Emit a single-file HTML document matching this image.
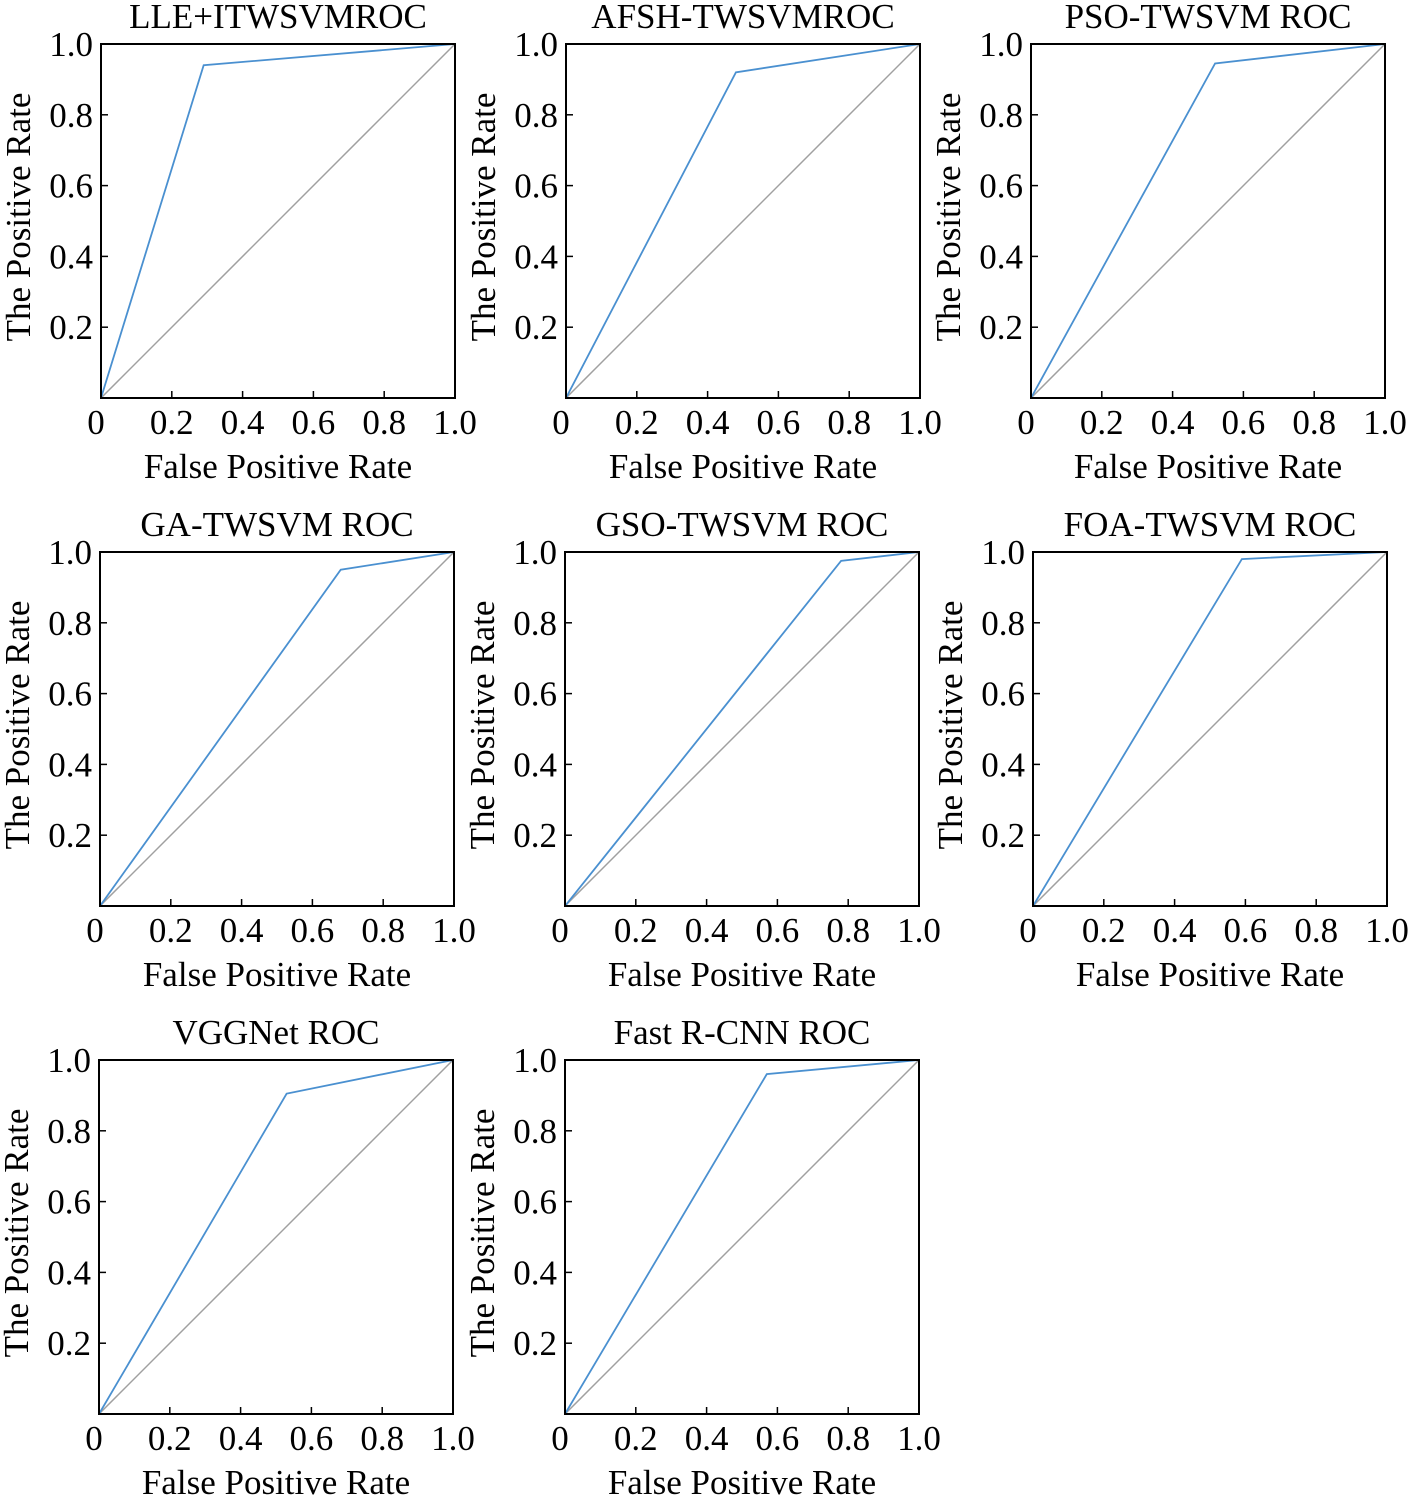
<!DOCTYPE html>
<html><head><meta charset="utf-8"><style>
html,body{margin:0;padding:0;background:#fff;}
svg{display:block;font-family:"Liberation Serif",serif;}
</style></head><body>
<svg id="fig" width="1411" height="1497" viewBox="0 0 1411 1497" xmlns="http://www.w3.org/2000/svg"></svg>
<script>
const titles = ["LLE+ITWSVMROC","AFSH-TWSVMROC","PSO-TWSVM ROC","GA-TWSVM ROC","GSO-TWSVM ROC","FOA-TWSVM ROC","VGGNet ROC","Fast R-CNN ROC"];
const rocX = [[0,0.29,1],[0,0.48,1],[0,0.52,1],[0,0.68,1],[0,0.78,1],[0,0.59,1],[0,0.53,1],[0,0.57,1]];
const rocY = [[0,0.94,1],[0,0.92,1],[0,0.945,1],[0,0.95,1],[0,0.975,1],[0,0.98,1],[0,0.905,1],[0,0.96,1]];
const xTicks = [0,0.2,0.4,0.6,0.8,1.0];
const xTickLabels = ["0","0.2","0.4","0.6","0.8","1.0"];
const yTicks = [0.2,0.4,0.6,0.8,1.0];
const yTickLabels = ["0.2","0.4","0.6","0.8","1.0"];
const boxes = [[101,44],[566,44],[1031,44],[100,552],[565,552],[1033,552],[99,1060],[565,1060]];
const W = 354, H = 354;
const FS = 35;
const svg = document.getElementById('fig');
const NS = 'http://www.w3.org/2000/svg';
function mk(tag, attrs, parent){const e=document.createElementNS(NS,tag);for(const k in attrs)e.setAttribute(k,attrs[k]);parent.appendChild(e);return e;}
titles.forEach((t,i)=>{
  const [L,T]=boxes[i];
  const sx=v=>L+v*W, sy=v=>T+H-v*H;
  const g=mk('g',{},svg);
  
  
  const tt=mk('text',{x:L+W/2,y:T-16,'text-anchor':'middle','font-size':FS},g);tt.textContent=t;
  
  
  const dg=mk('line',{x1:sx(0),y1:sy(0),x2:sx(1),y2:sy(1),stroke:'#a0a0a0','stroke-width':1.5},g);
  
  
  const pts=rocX[i].map((x,j)=>sx(x)+','+sy(rocY[i][j])).join(' ');
  const pl=mk('polyline',{points:pts,fill:'none',stroke:'#4a90d0','stroke-width':1.8},g);
  
  
  const bx=mk('rect',{x:L,y:T,width:W,height:H,fill:'none',stroke:'#000','stroke-width':2},g);
  
  
  xTicks.forEach((v,k)=>{
    if(k>0&&k<xTicks.length-1)mk('line',{x1:sx(v),y1:T+H,x2:sx(v),y2:T+H-7,stroke:'#000','stroke-width':1.5},g);
    const tx=mk('text',{x:k===0?sx(v)-5:sx(v),y:T+H+36,'text-anchor':'middle','font-size':FS},g);tx.textContent=xTickLabels[k];
    
    
  });
  yTicks.forEach((v,k)=>{
    if(k<yTicks.length-1)mk('line',{x1:L,y1:sy(v),x2:L+7,y2:sy(v),stroke:'#000','stroke-width':1.5},g);
    const ty=mk('text',{x:L-8,y:sy(v)+12,'text-anchor':'end','font-size':FS},g);ty.textContent=yTickLabels[k];
    
    
  });
  const xl=mk('text',{x:L+W/2,y:T+H+80,'text-anchor':'middle','font-size':FS},g);xl.textContent='False Positive Rate';
  
  
  const yl=mk('text',{x:0,y:0,'text-anchor':'middle','font-size':FS,transform:`translate(${L-71},${T+H/2-4}) rotate(-90)`},g);yl.textContent='The Positive Rate';
  
  
});
</script>
</body></html>
